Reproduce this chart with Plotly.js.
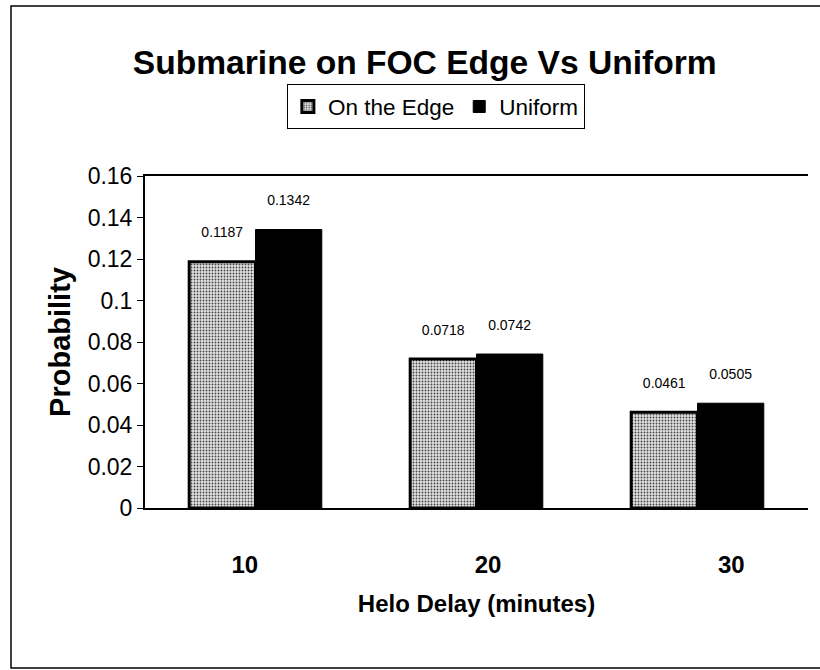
<!DOCTYPE html>
<html>
<head>
<meta charset="utf-8">
<script src="https://cdn.plot.ly/plotly-3.0.1.min.js"></script>
<style>
  html, body { margin: 0; padding: 0; background: #fff; }
  #chart { width: 820px; height: 670px; }
</style>
</head>
<body>
<div id="chart"></div>
<script>
const categories = ['10', '20', '30'];
const delayMinutes = [10, 20, 30];
const onTheEdge = [0.1187, 0.0718, 0.0461];
const uniform = [0.1342, 0.0742, 0.0505];
const seriesNames = ['On the Edge', 'Uniform'];
const yTicks = [0, 0.02, 0.04, 0.06, 0.08, 0.1, 0.12, 0.14, 0.16];
const yTickText = ['0', '0.02', '0.04', '0.06', '0.08', '0.1', '0.12', '0.14', '0.16'];

const FONT = '"Liberation Sans Narrow", "Arial Narrow", "Liberation Sans", Arial, sans-serif';

const labelText = v => v.toFixed(4) + '<br> ';

const traces = [
  {
    type: 'bar',
    name: seriesNames[0],
    x: categories,
    y: onTheEdge,
    text: onTheEdge.map(labelText),
    textposition: 'outside',
    textfont: {family: FONT, size: 14, color: '#000'},
    cliponaxis: false,
    hoverinfo: 'x+y',
    marker: {
      color: '#d9d9d9',
      line: {color: '#000', width: 3},
      pattern: {shape: '.', fgcolor: '#444', bgcolor: '#e2e2e2', size: 3, solidity: 0.3}
    }
  },
  {
    type: 'bar',
    name: seriesNames[1],
    x: categories,
    y: uniform,
    text: uniform.map(labelText),
    textposition: 'outside',
    textfont: {family: FONT, size: 14, color: '#000'},
    cliponaxis: false,
    hoverinfo: 'x+y',
    marker: {color: '#000', line: {color: '#000', width: 1}}
  },
  {
    type: 'scatter',
    mode: 'none',
    x: delayMinutes,
    y: delayMinutes.map(() => null),
    xaxis: 'x2',
    yaxis: 'y',
    showlegend: false,
    hoverinfo: 'skip'
  }
];

const layout = {
  width: 820,
  height: 670,
  paper_bgcolor: '#fff',
  plot_bgcolor: '#fff',
  margin: {l: 145, r: 12, t: 176, b: 162, pad: 0},
  font: {family: FONT, color: '#000'},
  title: {
    text: '<b>Submarine on FOC Edge Vs Uniform</b>',
    font: {family: FONT, size: 33.6, color: '#000'},
    x: 0.518, xanchor: 'center',
    y: 0.907, yanchor: 'middle'
  },
  barmode: 'group',
  bargap: 0.4,
  bargroupgap: 0,
  showlegend: true,
  legend: {
    orientation: 'h',
    x: 0.214, xanchor: 'left',
    y: 1.276, yanchor: 'top',
    bgcolor: '#fff',
    bordercolor: '#000',
    borderwidth: 1,
    font: {family: FONT, size: 22.5, color: '#000'},
    itemwidth: 30,
    tracegroupgap: 0
  },
  xaxis: {
    type: 'category',
    showticklabels: false,
    ticks: '',
    showline: true,
    linecolor: '#000',
    linewidth: 2,
    mirror: true,
    showgrid: false,
    zeroline: false
  },
  xaxis2: {
    overlaying: 'x',
    anchor: 'y',
    side: 'bottom',
    range: [5.9, 33.15],
    tickvals: delayMinutes,
    ticktext: categories.map(c => '<b>' + c + '</b>'),
    tickfont: {family: FONT, size: 24, color: '#000'},
    ticks: '',
    ticklabelstandoff: 40,
    showline: false,
    showgrid: false,
    zeroline: false,
    title: {
      text: '<b>Helo Delay (minutes)</b>',
      font: {family: FONT, size: 24, color: '#000'},
      standoff: 18
    }
  },
  yaxis: {
    range: [0, 0.16],
    tickvals: yTicks,
    ticktext: yTickText,
    tickfont: {family: FONT, size: 23, color: '#000'},
    ticks: 'outside',
    ticklen: 6,
    tickcolor: '#000',
    tickwidth: 1,
    showline: true,
    linecolor: '#000',
    linewidth: 2,
    showgrid: false,
    zeroline: false,
    title: {
      text: '<b>Probability</b>',
      font: {family: FONT, size: 29, color: '#000'},
      standoff: 8
    }
  },
  shapes: [
    {
      type: 'rect', xref: 'paper', yref: 'paper',
      x0: (11 - 145) / 663, x1: (850 - 145) / 663,
      y0: (670 - 668 - 162) / 332, y1: (670 - 6 - 162) / 332,
      line: {color: '#000', width: 1.5},
      fillcolor: 'rgba(0,0,0,0)',
      layer: 'below'
    }
  ]
};

Plotly.newPlot('chart', traces, layout, {displayModeBar: false, staticPlot: true});
</script>
</body>
</html>
